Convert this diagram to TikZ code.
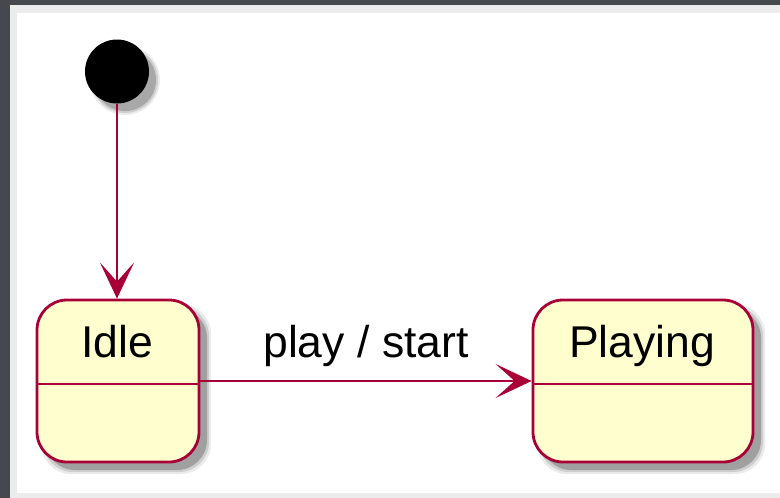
\documentclass[tikz,border=0pt]{standalone}
\usepackage{fontspec}
\setmainfont{Liberation Sans}
\usetikzlibrary{arrows.meta}
\definecolor{umlred}{HTML}{A80036}
\definecolor{umlfill}{HTML}{FEFECE}
\definecolor{frame}{HTML}{45484C}
\definecolor{paper}{HTML}{ECECEC}
\tikzset{
  statebox/.style={draw=umlred, fill=umlfill, line width=2.8pt, rounded corners=30pt, inner sep=0pt},
  statetext/.style={anchor=base, inner sep=0pt, font=\fontsize{44.5}{53}\selectfont},
  edge/.style={draw=umlred, line width=2.4pt, -{Stealth[length=36pt, width=34pt, inset=19pt]}},
  divider/.style={draw=umlred, line width=2.6pt},
}
\begin{document}
\begin{tikzpicture}[x=1pt, y=-1pt]
\useasboundingbox (0,0) rectangle (780,498);
% frame
\fill[frame] (0,0) rectangle (780,498);
\fill[paper] (10,5) rectangle (780,498);
\fill[white] (17,13) rectangle (780,493);
% shadows
\foreach \e/\o in {4/0.08,2/0.12,0/0.18}{
  \fill[black, opacity=\o] (125,80) circle (31+\e);
}
\foreach \e/\o in {4/0.08,2/0.12,0/0.22}{
  \fill[black, opacity=\o, rounded corners=30pt] (45-\e,308-\e) rectangle (207+\e,470+\e);
  \fill[black, opacity=\o, rounded corners=30pt] (541-\e,308-\e) rectangle (761+\e,470+\e);
}
% initial state
\node[circle, fill=black, minimum size=64pt, inner sep=0pt] (init) at (117,71.5) {};
% states
\node[statebox, minimum width=162pt, minimum height=162pt] (idle) at (118,381) {};
\node[statebox, minimum width=220pt, minimum height=162pt] (playing) at (643,381) {};
\node[statetext] (idletxt) at (117,357) {Idle};
\node[statetext] (playingtxt) at (642,357) {Playing};
\draw[divider] (idle.west |- 0,384) -- (idle.east |- 0,384);
\draw[divider] (playing.west |- 0,384) -- (playing.east |- 0,384);
% transitions
\draw[edge] (init.south) -- (init.south |- idle.north);
\draw[edge] (idle.east) -- node[statetext, yshift=24pt] (lbl) {play / start} (playing.west);
\end{tikzpicture}
\end{document}
